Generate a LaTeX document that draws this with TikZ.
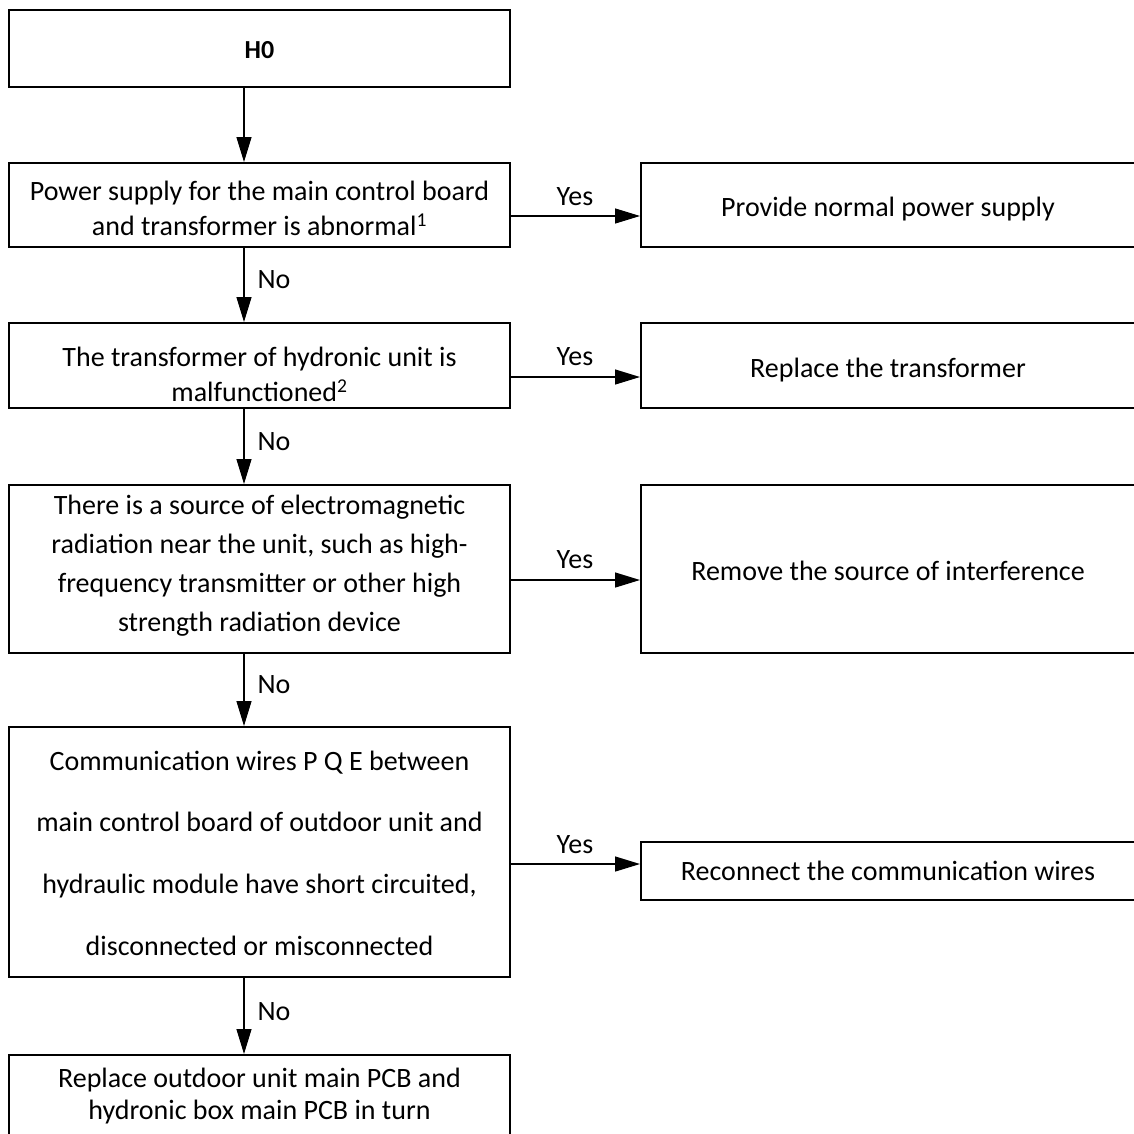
\documentclass[tikz,border=0pt]{standalone}
\usepackage{fontspec}
\setmainfont{Carlito}
\usetikzlibrary{arrows.meta}
\newcommand\myfs[1]{\fontsize{28}{#1}\selectfont}
\begin{document}
\begin{tikzpicture}[x=1pt,y=-1pt,
  box/.style={draw, line width=2pt, inner sep=0pt, rectangle},
  lbox/.style={box, minimum width=501pt},
  rbox/.style={box, minimum width=495pt},
  txt/.style={inner sep=0pt, align=center, anchor=north},
  lbl/.style={inner sep=0pt, font=\myfs{34}},
  arr/.style={line width=1.3pt, -{Triangle[length=25pt,width=15pt]}}]
\useasboundingbox (0,0) rectangle (1134,1133);
\fill[white] (0,0) rectangle (1134,1133);

% left column boxes
\node[lbox, minimum height=77pt]  (h0) at (259.5,48.5) {};
\node[lbox, minimum height=84pt]  (b2) at (259.5,205) {};
\node[lbox, minimum height=85pt]  (b3) at (259.5,365.5) {};
\node[lbox, minimum height=168pt] (b4) at (259.5,569) {};
\node[lbox, minimum height=250pt] (b5) at (259.5,852) {};
\node[lbox, minimum height=81pt]  (b6) at (259.5,1095.5) {};

% right column boxes
\node[rbox, minimum height=84pt]  (r2) at (888.5,205) {};
\node[rbox, minimum height=85pt]  (r3) at (888.5,365.5) {};
\node[rbox, minimum height=168pt] (r4) at (888.5,569) {};
\node[rbox, minimum height=58pt]  (r5) at (888.5,871) {};

% texts
\node[inner sep=0pt, anchor=base, font=\bfseries\fontsize{26}{30}\selectfont] (t1) at (259.5,58) {H0};
\node[txt, font=\myfs{35}] (t2) at (259.5,175.5)
  {\strut Power supply for the main control board\\\strut and transformer is abnormal\textsuperscript{1}};
\node[txt, font=\myfs{35}] (t3) at (259.5,341.5)
  {\strut The transformer of hydronic unit is\\\strut malfunctioned\textsuperscript{2}};
\node[txt, font=\myfs{39}] (t4) at (259.5,486.7)
  {\strut There is a source of electromagnetic\\\strut radiation near the unit, such as high-\\\strut frequency transmitter or other high\\\strut strength radiation device};
\node[txt, font=\myfs{61.7}] (t5) at (259.5,726.8)
  {\strut Communication wires P Q E between\\\strut main control board of outdoor unit and\\\strut hydraulic module have short circuited,\\\strut disconnected or misconnected};
\node[txt, font=\myfs{32}] (t6) at (259.5,1064.6)
  {\strut Replace outdoor unit main PCB and\\\strut hydronic box main PCB in turn};

\node[lbl, anchor=base] (s2) at (888,216) {Provide normal power supply};
\node[lbl, anchor=base] (s3) at (888,377) {Replace the transformer};
\node[lbl, anchor=base] (s4) at (888,580) {Remove the source of interference};
\node[lbl, anchor=base] (s5) at (888,880) {Reconnect the communication wires};

% vertical connectors
\coordinate (ax) at (244,0);
\draw[arr] (h0.south -| ax) -- (b2.north -| ax);
\draw[arr] (b2.south -| ax) -- (b3.north -| ax);
\draw[arr] (b3.south -| ax) -- (b4.north -| ax);
\draw[arr] (b4.south -| ax) -- (b5.north -| ax);
\draw[arr] (b5.south -| ax) -- (b6.north -| ax);
\node[lbl] (n2) at (274,280) {No};
\node[lbl] (n3) at (274,442) {No};
\node[lbl] (n4) at (274,685) {No};
\node[lbl] (n5) at (274,1012) {No};

% horizontal connectors
\coordinate (y2) at (0,216);
\coordinate (y3) at (0,377);
\coordinate (y4) at (0,580);
\coordinate (y5) at (0,864);
\draw[arr] (b2.east |- y2) -- (r2.west |- y2);
\draw[arr] (b3.east |- y3) -- (r3.west |- y3);
\draw[arr] (b4.east |- y4) -- (r4.west |- y4);
\draw[arr] (b5.east |- y5) -- (r5.west |- y5);
\node[lbl] (y2l) at (575,197) {Yes};
\node[lbl] (y3l) at (575,357) {Yes};
\node[lbl] (y4l) at (575,560) {Yes};
\node[lbl] (y5l) at (575,845) {Yes};
\end{tikzpicture}
\end{document}
